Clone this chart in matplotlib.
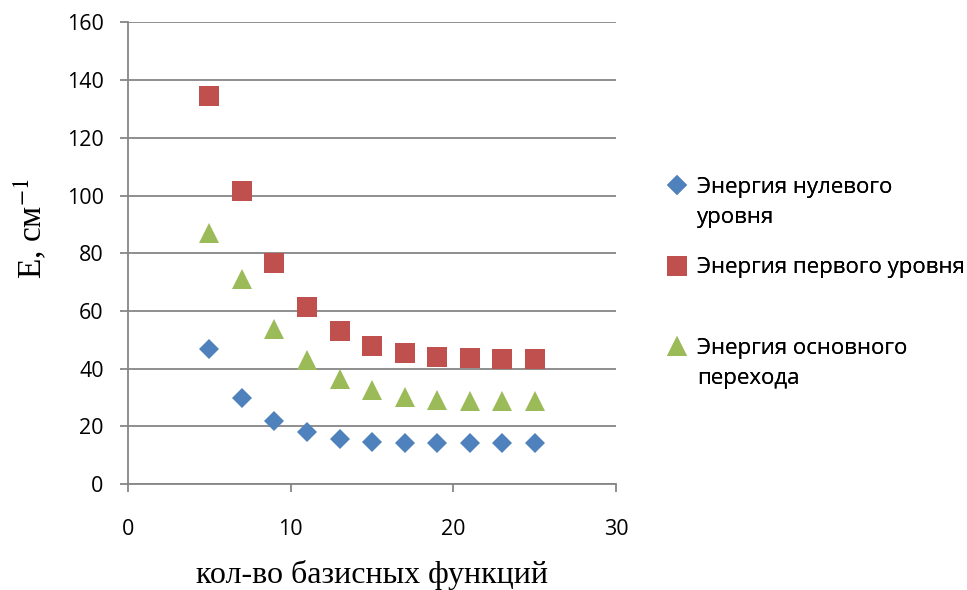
import matplotlib
matplotlib.use("Agg")
import matplotlib.pyplot as plt
from matplotlib.lines import Line2D

plt.rcParams['font.family'] = ['Open Sans', 'DejaVu Sans']
plt.rcParams['mathtext.fontset'] = 'stix'

# число базисных функций
n_basis = [5, 7, 9, 11, 13, 15, 17, 19, 21, 23, 25]
e_zero = [46.7, 29.9, 21.8, 17.9, 15.7, 14.7, 14.3, 14.1, 14.1, 14.1, 14.1]
e_first = [134.5, 101.7, 76.7, 61.5, 53.2, 48.0, 45.3, 43.9, 43.8, 43.3, 43.3]
e_trans = [86.9, 71.1, 53.9, 42.9, 36.3, 32.5, 30.3, 29.2, 28.9, 28.8, 28.8]

labels = ["Энергия нулевого\nуровня", "Энергия первого уровня", "Энергия основного\nперехода"]
colors = ['#4F81BD', '#C0504D', '#9BBB59']
grid_col = '#868686'

fig = plt.figure(figsize=(9.67, 5.9), dpi=100)
ax = fig.add_axes([0.1324, 0.1797, 0.5047, 0.7822])

ax.plot(n_basis, e_zero, 'D', color=colors[0], ms=10.2, mew=0)
ax.plot(n_basis, e_first, 's', color=colors[1], ms=13.8, mew=0)
ax.plot(n_basis, e_trans, '^', color=colors[2], ms=14.4, mew=0)

ax.set_xlim(0, 30)
ax.set_ylim(0, 160)
ax.set_xticks([0, 10, 20, 30])
ax.set_yticks(range(0, 161, 20))
ax.yaxis.grid(True, color=grid_col, lw=1.3)
ax.set_axisbelow(True)
for s in ['top', 'right']:
    ax.spines[s].set_visible(False)
for s in ['left', 'bottom']:
    ax.spines[s].set_color(grid_col)
    ax.spines[s].set_linewidth(1.3)
ax.tick_params(axis='y', direction='out', length=5.5, width=1.3, color=grid_col, pad=12, labelsize=15.5)
ax.tick_params(axis='x', direction='out', length=6, width=1.3, color=grid_col, pad=19, labelsize=15.5)

ax.set_xlabel("кол-во базисных функций", family=['Liberation Serif', 'DejaVu Serif'], fontsize=23)
ax.xaxis.label.set_verticalalignment('baseline')
ax.xaxis.set_label_coords(0.5, -0.2145)
ax.set_ylabel("E, см$^{-1}$", family=['Liberation Serif', 'DejaVu Serif'], fontsize=24)
ax.yaxis.label.set_verticalalignment('center')
ax.yaxis.set_label_coords(-0.2, 0.553)

# легенда - три отдельных блока как в Excel
markers = [('D', 10.2), ('s', 13.8), ('^', 14.4)]
tops = [176.5, 257.5, 337.5]
for (m, ms), c, lab, top in zip(markers, colors, labels, tops):
    lines = lab.split("\n")
    handles = [Line2D([], [], marker=m, color=c, ms=ms, mew=0, ls='none')]
    handles += [Line2D([], [], ls='none')] * (len(lines) - 1)
    leg = fig.legend(handles, lines, loc='upper left',
                     bbox_to_anchor=(666 / 967, 1 - top / 590),
                     frameon=False, borderpad=0, borderaxespad=0,
                     handlelength=1.0, handletextpad=0.4, labelspacing=0.42,
                     fontsize=16)
    fig.add_artist(leg)

fig.savefig("out.png", dpi=100)
